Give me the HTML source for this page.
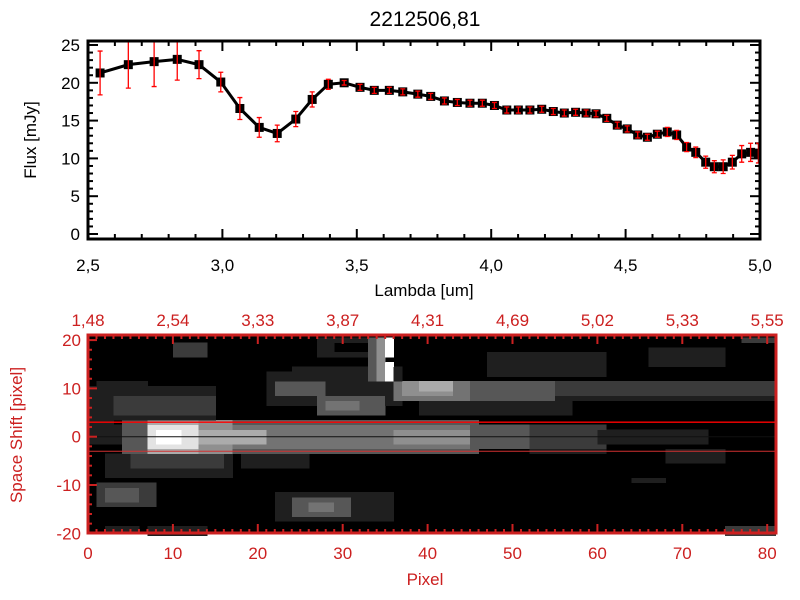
<!DOCTYPE html>
<html><head><meta charset="utf-8"><style>
html,body{margin:0;padding:0;background:#fff;width:800px;height:600px;overflow:hidden}
svg{display:block;font-family:"Liberation Sans",sans-serif}
</style></head><body>
<svg id="chart" width="800" height="600" viewBox="0 0 800 600" xmlns="http://www.w3.org/2000/svg">
<defs><clipPath id="topclip"><rect x="88" y="41" width="672" height="198"/></clipPath></defs>
<text x="425" y="26" font-size="21" text-anchor="middle">2212506,81</text>
<g id="topPanel"></g>
<g id="botPanel"></g>
</svg>
<script>
const lambdas=[2.545,2.650,2.746,2.832,2.913,2.994,3.065,3.137,3.204,3.273,3.334,3.394,3.453,3.512,3.565,3.621,3.671,3.727,3.775,3.826,3.874,3.921,3.967,4.012,4.058,4.101,4.144,4.188,4.231,4.272,4.314,4.353,4.390,4.430,4.469,4.506,4.545,4.581,4.618,4.655,4.690,4.727,4.761,4.798,4.830,4.863,4.897,4.932,4.965,4.994];
const fluxes=[21.3,22.4,22.8,23.1,22.4,20.1,16.6,14.1,13.3,15.2,17.8,19.8,20.0,19.4,19.0,19.0,18.8,18.5,18.2,17.6,17.4,17.3,17.3,17.0,16.4,16.4,16.4,16.5,16.2,16.0,16.1,16.0,15.9,15.3,14.4,13.9,13.1,12.8,13.2,13.5,13.1,11.5,10.8,9.5,8.9,8.9,9.5,10.6,10.8,10.7];
const errors=[2.9,3.1,3.3,2.75,1.85,1.3,1.45,1.3,1.1,1.0,1.0,0.66,0.3,0.4,0.4,0.4,0.4,0.4,0.4,0.4,0.4,0.4,0.4,0.4,0.4,0.4,0.4,0.4,0.4,0.4,0.4,0.4,0.4,0.4,0.4,0.4,0.4,0.4,0.4,0.6,0.6,0.6,0.7,0.8,0.8,0.9,0.9,1.1,1.2,1.3];
const xTickLabels=["2,5","3,0","3,5","4,0","4,5","5,0"];
const xTickValues=[2.5,3.0,3.5,4.0,4.5,5.0];
const yTickLabels=["0","5","10","15","20","25"];
const yTickValues=[0,5,10,15,20,25];
// bottom panel
const topAxisLabels=["1,48","2,54","3,33","3,87","4,31","4,69","5,02","5,33","5,55"];
const pixelTicks=[0,10,20,30,40,50,60,70,80];
const shiftTicks=[20,10,0,-10,-20];
// image patches: [col0,col1,row0,row1,level]
const patches=[
[0,14,4,10,1],[2,14,5,8,2],[1,6,9,11,1],[0,2,0,8,1],
[21,36,7,13,1],[22,27,9,11,3],[27,34,5,8,3],[28,31,6,7,4],[24,36,12,14,1],
[27,35,17,20,1],[29,33,18,19,0],[10,13,17,19,2],
[33,33,12,20,3],[34,34,12,20,5],[35,35,12,15,9],[35,35,17,20,9],[35,35,16,16,0],
[36,45,8,11,4],[37,42,9,11,5],[39,42,10,11,6],[45,55,8,11,3],[55,62,9,11,2],[62,80,9,11,2],[55,80,8,8,1],
[39,56,5,7,1],[47,60,13,17,1],[66,74,15,18,1],
[0,3,-1,2,1],[4,6,-3,3,3],[7,12,-3,3,6],[7,12,-2,2,8],[8,10,-1,1,9],
[13,16,-3,3,5],[17,30,-3,3,3],[17,30,-2,2,4],[13,20,-1,1,6],[30,45,-3,3,3],[30,45,-2,2,4],[36,44,-1,1,5],
[45,52,-2,2,3],[52,60,-2,2,2],[60,72,-1,1,1],[52,60,-3,-3,1],
[2,16,-8,-4,1],[5,15,-6,-4,2],[18,25,-6,-4,1],
[1,7,-14,-10,2],[2,5,-13,-11,3],
[22,35,-17,-12,1],[24,30,-16,-13,3],[26,28,-15,-14,4],
[68,74,-5,-3,1],[64,67,-9,-9,1],[75,80,-20,-19,2],[77,80,20,20,2],[2,5,-19,-19,1],[7,13,-20,-19,1]
];
const NS="http://www.w3.org/2000/svg";
function mk(parent,tag,attrs,text){const e=document.createElementNS(NS,tag);for(const k in attrs)e.setAttribute(k,attrs[k]);if(text!==undefined)e.textContent=text;parent.appendChild(e);return e;}
// ---- top panel
const topG=document.getElementById('topPanel');
const X0=88,X1=760,Y0=41,Y1=239;
const xs=l=>X0+(l-2.5)*268.8;
const ys=v=>234-v*7.56;
for(let k=25;k<=50;k++){const l=k/10,x=xs(l),maj=(k%5===0),len=maj?10:5;
 let a=mk(topG,'line',{x1:x,x2:x,y1:Y1,y2:Y1-len,stroke:'#000','stroke-width':2});
 
 a=mk(topG,'line',{x1:x,x2:x,y1:Y0,y2:Y0+len,stroke:'#000','stroke-width':2});
 }
for(let v=0;v<=25;v++){const y=ys(v),maj=(v%5===0),len=maj?10:5;
 let a=mk(topG,'line',{x1:X0,x2:X0+len,y1:y,y2:y,stroke:'#000','stroke-width':2});
 
 a=mk(topG,'line',{x1:X1,x2:X1-len,y1:y,y2:y,stroke:'#000','stroke-width':2});
 }
xTickValues.forEach((v,i)=>{const tx=mk(topG,'text',{x:xs(v),y:271,'font-size':17,'text-anchor':'middle'},xTickLabels[i]);
 });
yTickValues.forEach((v,i)=>{const tx=mk(topG,'text',{x:80,y:ys(v)+6,'font-size':17,'text-anchor':'end'},yTickLabels[i]);
 });
let lbl=mk(topG,'text',{x:424,y:296,'font-size':17,'text-anchor':'middle'},'Lambda [um]');

lbl=mk(topG,'text',{x:0,y:0,'font-size':17,'text-anchor':'middle',transform:'translate(36,140) rotate(-90)'},'Flux [mJy]');

const series=mk(topG,'g',{'clip-path':'url(#topclip)'});

const fline=mk(series,'polyline',{points:lambdas.map((l,i)=>xs(l)+','+ys(fluxes[i])).join(' '),fill:'none',stroke:'#000','stroke-width':3});

lambdas.forEach((l,i)=>{const x=xs(l),y=ys(fluxes[i]);
 const r=mk(series,'rect',{x:x-4.5,y:y-4.5,width:9,height:9,fill:'#000'});
 });
lambdas.forEach((l,i)=>{const x=xs(l),ya=ys(fluxes[i]+errors[i]),yb=ys(fluxes[i]-errors[i]);
 const e=mk(series,'path',{d:`M${x},${ya}V${yb}M${x-2.5},${ya}H${x+2.5}M${x-2.5},${yb}H${x+2.5}`,stroke:'#f00','stroke-width':1.3,fill:'none'});
 });
const frame1=mk(topG,'rect',{x:X0,y:Y0,width:X1-X0,height:Y1-Y0,fill:'none',stroke:'#000','stroke-width':3});

// ---- bottom panel
const botG=document.getElementById('botPanel');
const BX0=88,BX1=776,BY0=335,BY1=533;
const px=c=>88+c*8.49;
const py=r=>436.7-r*4.83;
const RED='#cc2020';
const grid=[];for(let r=-20;r<=20;r++){grid[r+20]=new Array(81).fill(0);}
patches.forEach(p=>{for(let c=p[0];c<=p[1];c++)for(let r=p[2];r<=p[3];r++)grid[r+20][c]=p[4];});
mk(botG,'rect',{x:BX0,y:BY0,width:BX1-BX0,height:BY1-BY0,fill:'#000'});
const cells=mk(botG,'g',{'shape-rendering':'crispEdges'});
for(let r=-20;r<=20;r++)for(let c=0;c<81;c++){const v=grid[r+20][c];if(!v)continue;
 const gv=Math.min(255,v*28+3);
 const cell=mk(cells,'rect',{x:px(c),y:py(r)-2.42,width:9,height:5.3,fill:`rgb(${gv},${gv},${gv})`});
 }
let hl=mk(botG,'line',{x1:BX0,x2:BX1,y1:py(0),y2:py(0),stroke:'#111','stroke-width':1});

hl=mk(botG,'line',{x1:BX0,x2:BX1,y1:py(3),y2:py(3),stroke:'#f00','stroke-width':1.3});

hl=mk(botG,'line',{x1:BX0,x2:BX1,y1:py(-3),y2:py(-3),stroke:'#d03030','stroke-width':1});

for(let c=0;c<=81;c++){const x=px(c),maj=(c%10===0),len=maj?9:4;
 let a=mk(botG,'line',{x1:x,x2:x,y1:BY1,y2:BY1-len,stroke:RED,'stroke-width':2});
 
 a=mk(botG,'line',{x1:x,x2:x,y1:BY0,y2:BY0+len,stroke:RED,'stroke-width':2});
 }
for(let r=-20;r<=20;r+=2){const y=py(r),maj=(r%10===0),len=maj?9:4;
 const a=mk(botG,'line',{x1:BX0,x2:BX0+len,y1:y,y2:y,stroke:RED,'stroke-width':2});
 }
pixelTicks.forEach((c,i)=>{let tt=mk(botG,'text',{x:px(c),y:559,'font-size':17,'text-anchor':'middle',fill:RED},String(c));
 
 tt=mk(botG,'text',{x:px(c),y:326,'font-size':17,'text-anchor':'middle',fill:RED},topAxisLabels[i]);
 });
shiftTicks.forEach(r=>{const tt=mk(botG,'text',{x:81,y:py(r)+6,'font-size':17,'text-anchor':'end',fill:RED},String(r));
 });
lbl=mk(botG,'text',{x:425,y:585,'font-size':17,'text-anchor':'middle',fill:RED},'Pixel');

lbl=mk(botG,'text',{x:0,y:0,'font-size':17,'text-anchor':'middle',fill:RED,transform:'translate(22,435) rotate(-90)'},'Space Shift [pixel]');

const frame2=mk(botG,'rect',{x:BX0,y:BY0,width:BX1-BX0,height:BY1-BY0,fill:'none',stroke:RED,'stroke-width':3});

</script>
</body></html>
